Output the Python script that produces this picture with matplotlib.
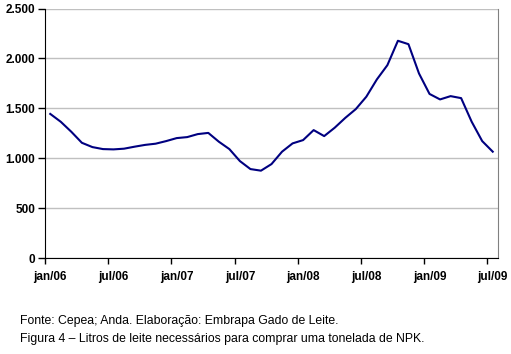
import matplotlib
matplotlib.use("Agg")
import matplotlib.pyplot as plt
from matplotlib.ticker import FixedLocator

months = ["jan/06","fev/06","mar/06","abr/06","mai/06","jun/06","jul/06","ago/06","set/06","out/06","nov/06","dez/06",
          "jan/07","fev/07","mar/07","abr/07","mai/07","jun/07","jul/07","ago/07","set/07","out/07","nov/07","dez/07",
          "jan/08","fev/08","mar/08","abr/08","mai/08","jun/08","jul/08","ago/08","set/08","out/08","nov/08","dez/08",
          "jan/09","fev/09","mar/09","abr/09","mai/09","jun/09","jul/09"]
litros = [1445, 1366, 1266, 1156, 1113, 1093, 1090, 1097, 1117, 1135, 1147, 1173,
          1203, 1213, 1243, 1255, 1167, 1093, 973, 893, 877, 943, 1067, 1150,
          1183, 1283, 1223, 1307, 1405, 1493, 1617, 1790, 1933, 2177, 2143, 1850,
          1645, 1590, 1623, 1603, 1367, 1173, 1067]
yticks = [0, 500, 1000, 1500, 2000, 2500]
ytick_labels = ["0", "500", "1.000", "1.500", "2.000", "2.500"]

plt.rcParams['font.family'] = ['Liberation Sans', 'DejaVu Sans']

fig = plt.figure(figsize=(5.11, 3.54), dpi=100)
ax = fig.add_axes([45/511, 1-258.3/354, 453/511, 249.8/354])
x = list(range(len(litros)))
ax.plot(x, litros, color="#000080", lw=1.5, zorder=3)

ax.set_xlim(-0.5, len(litros)-0.5)
ax.set_ylim(0, 2500)
ax.set_yticks(yticks)
ax.set_yticklabels(ytick_labels, fontsize=8.5, fontweight="bold")
ax.yaxis.grid(True, color="#c0c0c0", lw=1)
ax.set_axisbelow(True)

label_idx = list(range(0, len(months), 6))
ax.xaxis.set_major_locator(FixedLocator([i - 0.5 for i in label_idx]))
ax.set_xticklabels([])
ax.xaxis.set_minor_locator(FixedLocator(label_idx))
ax.set_xticklabels([months[i] for i in label_idx], minor=True, fontsize=8.5, fontweight="bold")
ax.tick_params(axis="x", which="minor", length=0, pad=9)
ax.tick_params(axis="x", which="major", length=4, width=1, direction="out")
ax.tick_params(axis="y", length=5, width=1, direction="out", pad=2)

ax.spines["top"].set_visible(False)
ax.spines["right"].set_color("#808080")
ax.spines["left"].set_color("black")
ax.spines["bottom"].set_color("black")

fig.text(20/511, 1-321/354, "Fonte: Cepea; Anda. Elaboração: Embrapa Gado de Leite.", fontsize=8.8, va="center", ha="left")
fig.text(20/511, 1-339/354, "Figura 4 – Litros de leite necessários para comprar uma tonelada de NPK.", fontsize=8.8, va="center", ha="left")

fig.savefig("out.png", dpi=100)
